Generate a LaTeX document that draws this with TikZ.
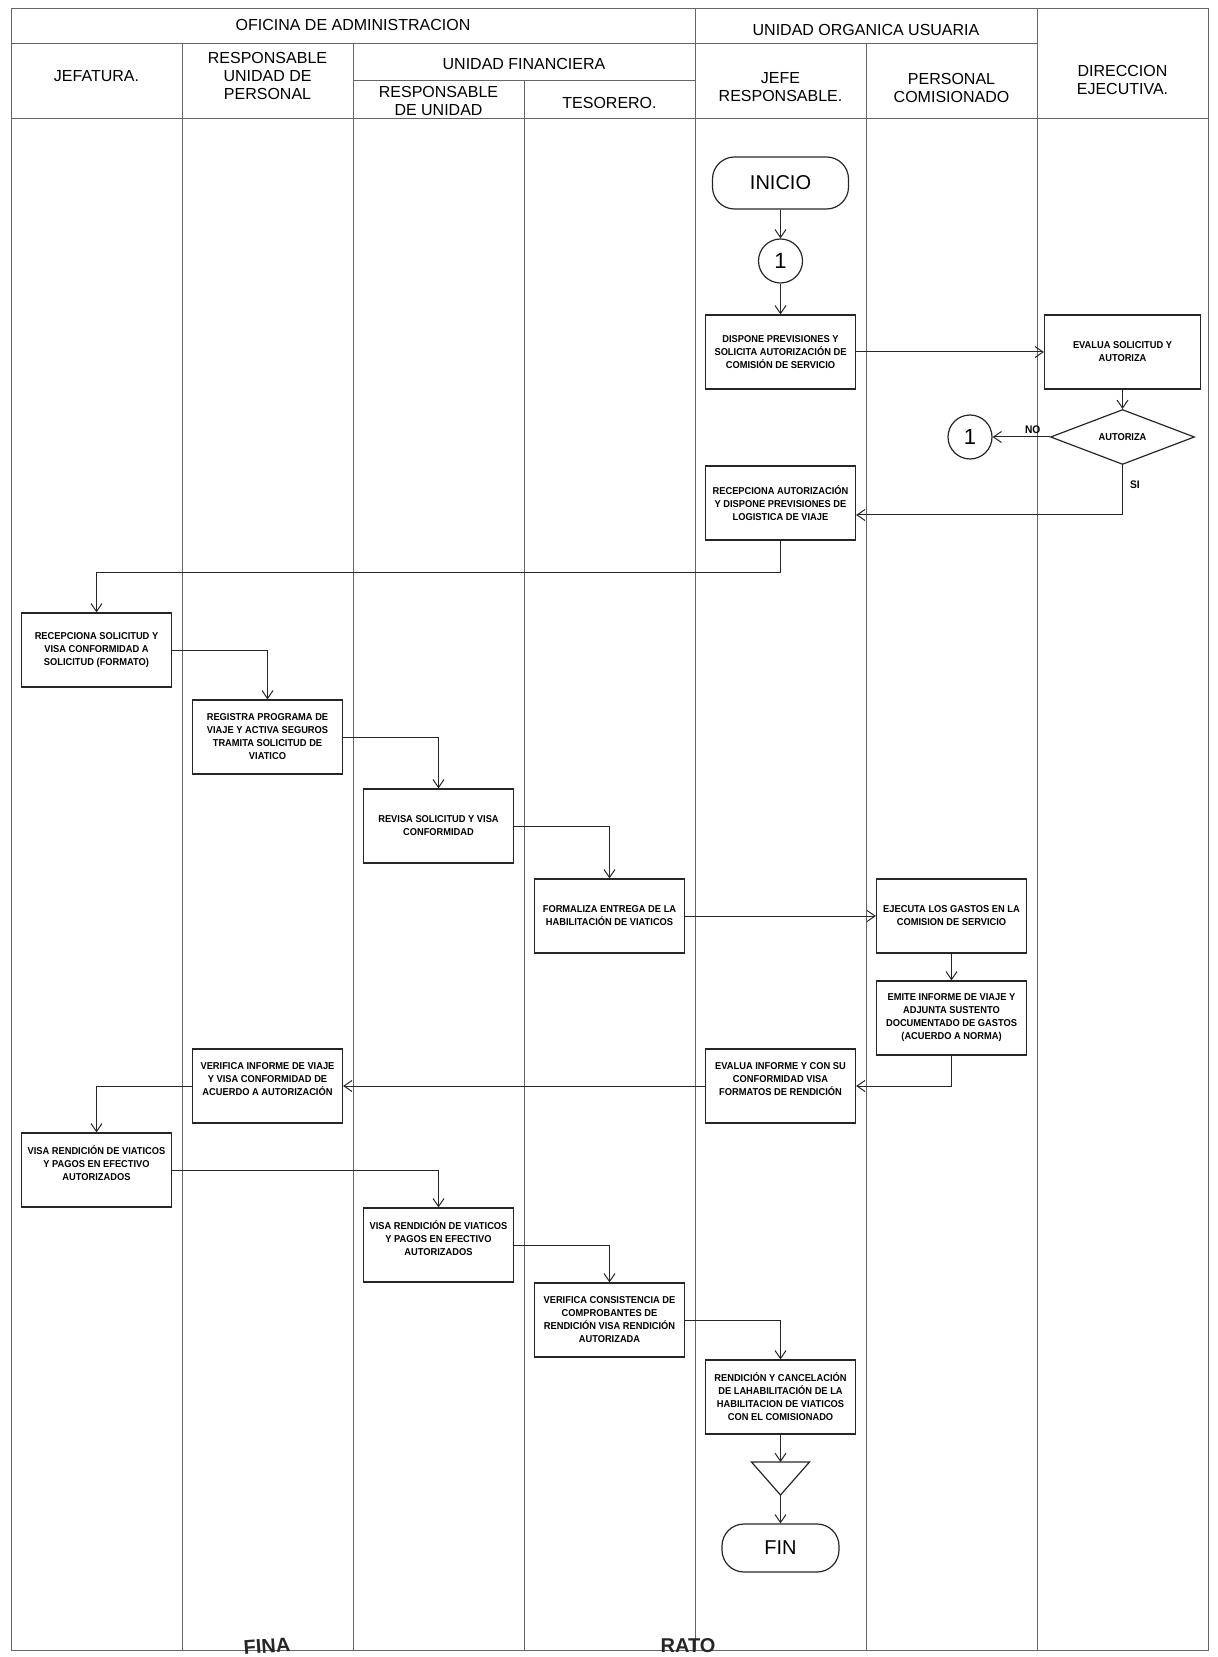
\documentclass[tikz,border=0pt]{standalone}
\usepackage{fontspec}
\setmainfont{Liberation Sans}
\newfontfamily\boxfont[FakeStretch=0.93]{Liberation Sans}
\usetikzlibrary{calc, positioning, shapes, arrows.meta}
\def\laneA{96.5}
\def\laneB{267.5}
\def\laneC{438.5}
\def\laneD{609.5}
\def\laneE{780.5}
\def\laneF{951.5}
\def\laneG{1122.5}
\tikzstyle{lane}=[draw=black!60, line width=0.5pt]
\tikzstyle{hdr}=[align=center, inner sep=0pt, font=\fontsize{8}{8.8}\selectfont]
\tikzstyle{task}=[rectangle, draw=black!85, line width=0.6pt, align=center, minimum width=75pt, minimum height=37pt, inner sep=1.5pt, font=\boxfont\bfseries\fontsize{5}{6.5}\selectfont]
\tikzstyle{raised}=[text depth=7pt]
\tikzstyle{terminal}=[rectangle, draw=black!85, line width=0.6pt, rounded corners=11pt, minimum width=68pt, minimum height=26pt, font=\fontsize{10}{12}\selectfont]
\tikzstyle{connector}=[circle, draw=black!85, line width=0.6pt, minimum size=22pt, inner sep=0pt, font=\fontsize{11}{12}\selectfont]
\tikzstyle{decision}=[diamond, draw=black!85, line width=0.6pt, minimum width=72pt, minimum height=22.5pt, inner sep=0pt, font=\boxfont\bfseries\fontsize{5}{6.5}\selectfont]
\tikzstyle{flow}=[->, draw=black!85, line width=0.5pt]
\tikzstyle{lbl}=[inner sep=1.5pt, font=\boxfont\bfseries\fontsize{5.5}{6.5}\selectfont]
\tikzstyle{stamp}=[inner sep=0pt, text=black!85, font=\bfseries\fontsize{10}{10}\selectfont]

\begin{document}
\begin{tikzpicture}[x=0.5pt, y=-0.5pt, >={Straight Barb[length=4pt,width=5.5pt]}]
	\useasboundingbox (0,0) rectangle (1217,1657);

	% cuadro de carriles
	\draw[lane] (11,9) rectangle (1208,1650);
	\draw[lane] (11,44) -- (1037,44);
	\draw[lane] (353,81) -- (695,81);
	\draw[lane] (11,119) -- (1208,119);
	\foreach \x/\y in {182/44, 353/44, 524/81, 695/9, 866/44, 1037/9}
		\draw[lane] (\x,\y) -- (\x,1650);

	\node[hdr] (hOfi) at (353,25) {OFICINA DE ADMINISTRACION};
	\node[hdr] (hUsu) at (866,30) {UNIDAD ORGANICA USUARIA};
	\node[hdr] (hJef) at (\laneA,76) {JEFATURA.};
	\node[hdr] (hPer) at (\laneB,76) {RESPONSABLE\\UNIDAD DE\\PERSONAL};
	\node[hdr] (hFin) at (524,64) {UNIDAD FINANCIERA};
	\node[hdr] (hRes) at (\laneC,101) {RESPONSABLE\\DE UNIDAD};
	\node[hdr] (hTes) at (\laneD,103) {TESORERO.};
	\node[hdr] (hJR) at (\laneE,87) {JEFE\\RESPONSABLE.};
	\node[hdr] (hCom) at (\laneF,88) {PERSONAL\\COMISIONADO};
	\node[hdr] (hDir) at (\laneG,80) {DIRECCION\\EJECUTIVA.};

	% pasos
	\node[terminal] (inicio) at (\laneE,183) {INICIO};
	\node[connector] (c1) at (\laneE,261) {1};
	\node[task] (dispone) at (\laneE,352) {DISPONE PREVISIONES Y\\SOLICITA AUTORIZACIÓN DE\\COMISIÓN DE SERVICIO};
	\node[task, minimum width=78pt] (evalua) at (\laneG,352) {EVALUA SOLICITUD Y\\AUTORIZA};
	\node[decision] (autoriza) at (\laneG,437) {AUTORIZA};
	\node[connector] (c2) at (970,437) {1};
	\node[task] (recepA) at (\laneE,503) {RECEPCIONA AUTORIZACIÓN\\Y DISPONE PREVISIONES DE\\LOGISTICA DE VIAJE};
	\node[task] (recepS) at (\laneA,650) {RECEPCIONA SOLICITUD Y\\VISA CONFORMIDAD A\\SOLICITUD (FORMATO)};
	\node[task] (registra) at (\laneB,737) {REGISTRA PROGRAMA DE\\VIAJE Y ACTIVA SEGUROS\\TRAMITA SOLICITUD DE\\VIATICO};
	\node[task] (revisa) at (\laneC,826) {REVISA SOLICITUD Y VISA\\CONFORMIDAD};
	\node[task] (formaliza) at (\laneD,916) {FORMALIZA ENTREGA DE LA\\HABILITACIÓN DE VIATICOS};
	\node[task] (ejecuta) at (\laneF,916) {EJECUTA LOS GASTOS EN LA\\COMISION DE SERVICIO};
	\node[task] (emite) at (\laneF,1018) {EMITE INFORME DE VIAJE Y\\ADJUNTA SUSTENTO\\DOCUMENTADO DE GASTOS\\(ACUERDO A NORMA)};
	\node[task, raised] (evalInf) at (\laneE,1086) {EVALUA INFORME Y CON SU\\CONFORMIDAD VISA\\FORMATOS DE RENDICIÓN};
	\node[task, raised] (verInf) at (\laneB,1086) {VERIFICA INFORME DE VIAJE\\Y VISA CONFORMIDAD DE\\ACUERDO A AUTORIZACIÓN};
	\node[task, raised] (visaJ) at (\laneA,1170) {VISA RENDICIÓN DE VIATICOS\\Y PAGOS EN EFECTIVO\\AUTORIZADOS};
	\node[task, raised] (visaU) at (\laneC,1245) {VISA RENDICIÓN DE VIATICOS\\Y PAGOS EN EFECTIVO\\AUTORIZADOS};
	\node[task] (verCon) at (\laneD,1320) {VERIFICA CONSISTENCIA DE\\COMPROBANTES DE\\RENDICIÓN VISA RENDICIÓN\\AUTORIZADA};
	\node[task] (rendicion) at (\laneE,1397) {RENDICIÓN Y CANCELACIÓN\\DE LAHABILITACIÓN DE LA\\HABILITACION DE VIATICOS\\CON EL COMISIONADO};
	\coordinate (triTop) at (\laneE,1462);
	\coordinate (triTip) at (\laneE,1495);
	\draw[draw=black!85, line width=0.6pt] ($(triTop)+(-29,0)$) -- ($(triTop)+(29,0)$) -- (triTip) -- cycle;
	\node[terminal, minimum width=58.5pt, minimum height=24pt] (fin) at (\laneE,1548) {FIN};

	% flechas
	\draw[flow] (inicio) -- (c1);
	\draw[flow] (c1) -- (dispone);
	\draw[flow] (dispone) -- (evalua);
	\draw[flow] (evalua) -- (autoriza);
	\draw[flow] (autoriza) -- node[lbl, above, pos=0.3] {NO} (c2);
	\draw[flow] (autoriza.south) |- node[lbl, right, xshift=2pt, pos=0.2] {SI} ($(recepA.east)+(0,12)$);
	\draw[flow] (recepA.south) -- ++(0,32) -| (recepS.north);
	\draw[flow] (recepS.east) -| (registra.north);
	\draw[flow] (registra.east) -| (revisa.north);
	\draw[flow] (revisa.east) -| (formaliza.north);
	\draw[flow] (formaliza) -- (ejecuta);
	\draw[flow] (ejecuta) -- (emite);
	\draw[flow] (emite.south) |- (evalInf.east);
	\draw[flow] (evalInf) -- (verInf);
	\draw[flow] (verInf.west) -| (visaJ.north);
	\draw[flow] (visaJ.east) -| (visaU.north);
	\draw[flow] (visaU.east) -| (verCon.north);
	\draw[flow] (verCon.east) -| (rendicion.north);
	\draw[flow] (rendicion) -- (triTop);
	\draw[flow] (triTip) -- (fin);

	\node[stamp, rotate=4] (stampA) at (267,1646) {FINA};
	\node[stamp] (stampB) at (688,1646) {RATO};
\end{tikzpicture}
\end{document}
